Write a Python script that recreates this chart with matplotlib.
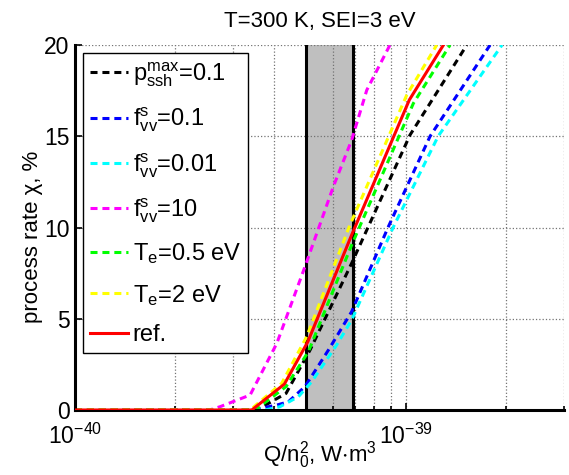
import numpy as np
import matplotlib.pyplot as plt

plt.rcParams['font.family'] = ['Liberation Sans', 'DejaVu Sans']
plt.rcParams['mathtext.fontset'] = 'custom'
plt.rcParams['mathtext.rm'] = 'Liberation Sans'
plt.rcParams['mathtext.it'] = 'Liberation Sans'
plt.rcParams['mathtext.default'] = 'regular'

# values; Q in units of 1e-40 W*m^3, rate in %
q_ref = [1, 3.42, 4.29, 5.05, 6.85, 10.23, 12.97]
y_ref = [0, 0, 1.42, 3.74, 9.59, 16.99, 20]

q_te2 = [1, 3.38, 4.21, 5.01, 6.77, 10.05, 12.38]
y_te2 = [0, 0, 1.46, 4.02, 10.14, 17.26, 20]

q_te05 = [1, 3.50, 4.34, 5.07, 6.85, 10.52, 13.58]
y_te05 = [0, 0, 1.28, 3.2, 9.04, 16.8, 20]

q_pssh = [1, 3.54, 4.34, 5.13, 6.85, 10.28, 15.26]
y_pssh = [0, 0, 0.91, 3.29, 8.04, 15.07, 20]

q_f01 = [1, 3.42, 4.07, 4.41, 4.95, 5.83, 6.85, 8.82, 11.82, 17.94]
y_f01 = [0, 0, 0.27, 0.45, 1.28, 3.29, 5.39, 10, 15, 20]

q_f001 = [1, 3.75, 4.16, 4.73, 5.19, 6.17, 6.85, 9.14, 12.50, 19.50]
y_f001 = [0, 0, 0.18, 0.73, 1.55, 3.56, 4.93, 10, 15, 20]

q_f10 = [1, 2.55, 2.742, 3.38, 4.07, 4.95, 6.03, 6.85, 7.61, 8.94]
y_f10 = [0, 0, 0.18, 0.82, 3.65, 7.85, 12.24, 14.79, 17.53, 20]

band = [5.0, 6.9]
scale = 1e-40

fig = plt.figure(figsize=(5.69, 4.75), dpi=100)
ax = fig.add_axes([75 / 569, 65 / 475, 489 / 569, 365 / 475])
ax.set_xscale('log')

ax.axvspan(band[0] * scale, band[1] * scale, color='0.75', zorder=0, lw=0)
for b in band:
    ax.axvline(b * scale, color='k', lw=2.2, zorder=1)

dash = (2.3, 1.6)
series = [
    (q_pssh, y_pssh, 'k', '$p_{ssh}^{max}$=0.1'),
    (q_f01, y_f01, 'blue', '$f_{vv}^{s}$=0.1'),
    (q_f001, y_f001, 'cyan', '$f_{vv}^{s}$=0.01'),
    (q_f10, y_f10, 'magenta', '$f_{vv}^{s}$=10'),
    (q_te05, y_te05, 'lime', '$T_e$=0.5 eV'),
    (q_te2, y_te2, 'yellow', '$T_e$=2 eV'),
]
for q, y, c, lab in series:
    ax.plot(np.array(q) * scale, y, color=c, lw=2.2, ls='--', dashes=dash, label=lab, zorder=2)
ax.plot(np.array(q_ref) * scale, y_ref, color='r', lw=2.2, label='ref.', zorder=3)

ax.set_xlim(1e-40, 3e-39)
ax.set_ylim(0, 20)
ax.set_yticks([0, 5, 10, 15, 20])
ax.set_xticks([1e-40, 1e-39])

ax.grid(True, which='major', ls=':', color='0.45', lw=0.9)
ax.grid(True, which='minor', axis='x', ls=':', color='0.45', lw=0.9)
ax.set_axisbelow(True)

for s in ['top', 'right']:
    ax.spines[s].set_visible(False)
for s in ['left', 'bottom']:
    ax.spines[s].set_linewidth(2.2)
ax.tick_params(which='both', direction='in', labelsize=16.5, width=1.2)
ax.tick_params(which='major', length=5)
ax.tick_params(which='minor', length=3)
ax.tick_params(axis='x', pad=10)
ax.tick_params(axis='y', pad=4)

ax.set_title('T=300 K, SEI=3 eV', fontsize=16, pad=13)
ax.set_xlabel('Q/n$_0^2$, W$\\cdot$m$^3$', fontsize=16)
ax.xaxis.set_label_coords(0.5, -0.08)
ax.set_ylabel('process rate χ, %', fontsize=16)
ax.yaxis.set_label_coords(-0.065, 0.475)

leg = ax.legend(loc='upper left', fontsize=17, handlelength=1.6, handletextpad=0.2,
                labelspacing=0.7, borderpad=0.3, borderaxespad=0.35, fancybox=False,
                framealpha=1, edgecolor='k')
leg.get_frame().set_linewidth(1.0)

fig.savefig('out.png', dpi=100)
